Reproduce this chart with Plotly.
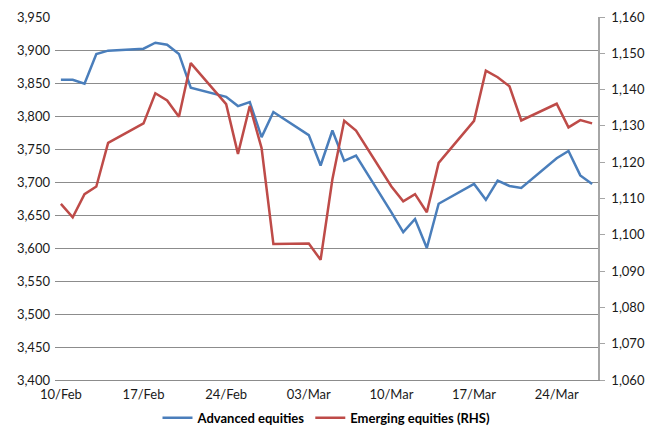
import plotly.graph_objects as go

dates = [
    "2014-02-10", "2014-02-11", "2014-02-12", "2014-02-13", "2014-02-14",
    "2014-02-17", "2014-02-18", "2014-02-19", "2014-02-20", "2014-02-21",
    "2014-02-24", "2014-02-25", "2014-02-26", "2014-02-27", "2014-02-28",
    "2014-03-03", "2014-03-04", "2014-03-05", "2014-03-06", "2014-03-07",
    "2014-03-10", "2014-03-11", "2014-03-12", "2014-03-13", "2014-03-14",
    "2014-03-17", "2014-03-18", "2014-03-19", "2014-03-20", "2014-03-21",
    "2014-03-24", "2014-03-25", "2014-03-26", "2014-03-27",
]

advanced = [
    3855, 3855, 3849, 3894, 3899,
    3902, 3911, 3908, 3894, 3843,
    3829, 3815, 3821, 3768, 3806,
    3771, 3725, 3778, 3732, 3740,
    3654, 3624, 3644, 3600, 3667,
    3697, 3673, 3702, 3694, 3691,
    3736, 3747, 3710, 3697,
]

emerging = [
    1108.5, 1104.8, 1111.2, 1113.3, 1125.3,
    1130.7, 1139.0, 1137.0, 1132.5, 1147.3,
    1136.0, 1122.3, 1135.5, 1123.9, 1097.5,
    1097.6, 1093.1, 1115.3, 1131.4, 1128.7,
    1113.3, 1109.2, 1111.2, 1106.2, 1119.8,
    1131.4, 1145.2, 1143.4, 1140.9, 1131.5,
    1136.1, 1129.6, 1131.6, 1130.7,
]

series_names = ["Advanced equities", "Emerging equities (RHS)"]
left_range = [3400, 3950]
right_range = [1060, 1160]
x_range = ["2014-02-09 12:00", "2014-03-27 12:00"]
first_tick = "2014-02-10"

BLUE = "#4a7ebb"
RED = "#be4b48"
GRID = "#8c8c8c"
FONT = "Lato, Carlito, 'Open Sans', sans-serif"

fig = go.Figure()
fig.add_trace(go.Scatter(x=dates, y=advanced, name=series_names[0], mode="lines",
                         line=dict(color=BLUE, width=2.5), yaxis="y"))
fig.add_trace(go.Scatter(x=dates, y=emerging, name=series_names[1], mode="lines",
                         line=dict(color=RED, width=2.5), yaxis="y2"))

fig.update_layout(
    width=646, height=428,
    margin=dict(l=55, r=48, t=17, b=48, autoexpand=False),
    paper_bgcolor="white", plot_bgcolor="white",
    font=dict(family=FONT, size=13, color="#1a1a1a"),
    showlegend=True,
    legend=dict(orientation="h", x=0.5, xanchor="center", y=-0.063, yanchor="top",
                font=dict(family=FONT, size=13, color="#000000", weight="bold"),
                itemwidth=30, tracegroupgap=0, borderwidth=0,
                bgcolor="rgba(0,0,0,0)"),
    xaxis=dict(type="date", range=x_range, tick0=first_tick, dtick=7 * 86400000,
               tickformat="%d/%b", showgrid=False, zeroline=False,
               showline=True, linecolor=GRID, linewidth=1, ticks="",
               tickfont=dict(size=13), ticklabelstandoff=2),
    yaxis=dict(range=left_range, dtick=50, tickformat=",.0f", showgrid=True,
               gridcolor=GRID, gridwidth=1, zeroline=False, showline=False,
               ticks="", ticklabelstandoff=4),
    yaxis2=dict(range=right_range, dtick=10, tickformat=",.0f", overlaying="y",
                side="right", showgrid=False, zeroline=False, showline=True,
                linecolor="#a6a6a6", linewidth=1.5, ticks="outside", ticklen=5,
                tickcolor="#a6a6a6", ticklabelstandoff=4),
)

fig.write_html("out.html")
